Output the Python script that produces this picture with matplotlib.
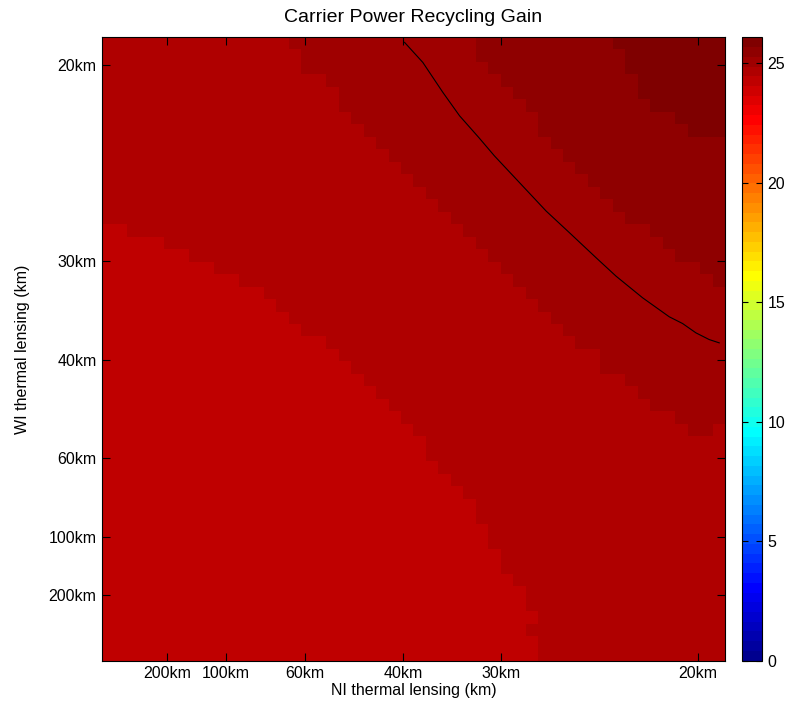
import numpy as np
import matplotlib
matplotlib.use('Agg')
import matplotlib.pyplot as plt
from matplotlib.colors import ListedColormap, Normalize

plt.rcParams['font.family'] = ['Liberation Sans', 'DejaVu Sans']

# inverse focal length grid (1/km), 50 x 50 cells
inv_f = np.linspace(0, 0.0518, 50)

# gain value of each colour band (lowest band bottom-left -> highest top-right)
band_gain = [24.25, 24.65, 25.05, 25.45, 25.9]

# per row (top row first): first column that belongs to the next band up
edge_1 = [0] * 15 + [2, 5, 7, 9, 11, 13, 14, 15, 16, 18, 19, 20, 21, 22, 23, 24, 25,
                     26, 26, 27, 28, 29, 30, 30, 31, 31, 32, 32, 33, 34, 34, 35, 34, 35, 35]
edge_2 = [15, 16, 16, 18, 19, 19, 20, 21, 22, 23, 24, 25, 26, 27, 28, 29, 30, 31, 32,
          33, 34, 35, 36, 37, 38, 40, 40, 42, 43, 44, 46, 47] + [50] * 18
edge_3 = [30, 30, 31, 32, 33, 34, 35, 35, 36, 37, 38, 39, 40, 41, 42, 44, 45, 46, 48, 49] + [50] * 30
edge_4 = [41, 42, 42, 43, 43, 44, 46, 47] + [50] * 42
# single cells that break the staircase: (row, col, band)
odd_cells = [(31, 49, 1)]

# contour line (1/km)
line_x = [0.02514, 0.02669, 0.02839, 0.02981, 0.03144, 0.03277, 0.03489, 0.03715, 0.03913,
          0.04139, 0.04308, 0.04534, 0.04760, 0.04873, 0.04986, 0.05099, 0.05184]
line_y = [0.05190, 0.05020, 0.04766, 0.04567, 0.04383, 0.04227, 0.04001, 0.03760, 0.03576,
          0.03364, 0.03208, 0.03024, 0.02863, 0.02806, 0.02727, 0.02670, 0.02642]

tick_km = [200, 100, 60, 40, 30, 20]
cbar_ticks = [0, 5, 10, 15, 20, 25]
c_max = 26.09


def matlab_jet(n=64):
    # same layout as MATLAB's jet(n)
    m = int(np.ceil(n / 4))
    u = np.concatenate([np.arange(1, m + 1) / m, np.ones(m - 1), np.arange(m, 0, -1) / m])
    g = int(np.ceil(m / 2)) - (1 if n % 4 == 1 else 0) + np.arange(1, len(u) + 1)
    r = g + m
    b = g - m
    cols = np.zeros((n, 3))
    for ch, idx in ((0, r), (1, g), (2, b)):
        ok = (idx >= 1) & (idx <= n)
        cols[idx[ok] - 1, ch] = u[ok]
    return ListedColormap(cols)


# build the field from the band edges
cols = np.arange(50)
band = np.zeros((50, 50), dtype=int)
for r in range(50):
    for e in (edge_1, edge_2, edge_3, edge_4):
        band[r] += cols >= e[r]
for r, c, k in odd_cells:
    band[r, c] = k
gain = np.array(band_gain)[band]

d = inv_f[1] - inv_f[0]
lo, hi = inv_f[0] - d / 2, inv_f[-1] + d / 2

fig = plt.figure(figsize=(7.9, 7.1), dpi=100)
ax = fig.add_axes([102 / 790, 49.3 / 710, 623 / 790, 623.4 / 710])
cax = fig.add_axes([741.7 / 790, 49.3 / 710, 20 / 790, 623.4 / 710])

im = ax.imshow(gain, cmap=matlab_jet(64), norm=Normalize(0, c_max), origin='upper',
               extent=[lo, hi, lo, hi], aspect='auto', interpolation='nearest')
ax.plot(line_x, line_y, color='black', linewidth=0.8)
ax.set_xlim(lo, hi)
ax.set_ylim(lo, hi)

ticks = [1.0 / k for k in tick_km]
labels = ['%dkm' % k for k in tick_km]
ax.set_xticks(ticks)
ax.set_xticklabels(labels)
ax.set_yticks(ticks)
ax.set_yticklabels(labels)
ax.tick_params(direction='in', length=6, width=0.8, top=True, right=True,
               labelsize=11.5, pad=4)
for s in ax.spines.values():
    s.set_linewidth(0.8)

ax.set_xlabel('NI thermal lensing (km)', fontsize=11.5, labelpad=1)
ax.set_ylabel('WI thermal lensing (km)', fontsize=11.5, labelpad=13)
ax.set_title('Carrier Power Recycling Gain', fontsize=14, pad=11)

cb = fig.colorbar(im, cax=cax, ticks=cbar_ticks)
cb.outline.set_linewidth(0.8)
cax.tick_params(direction='in', length=4, width=0.8, left=True, right=True,
                labelsize=11.5, pad=4)

fig.savefig('out.png', dpi=100)
